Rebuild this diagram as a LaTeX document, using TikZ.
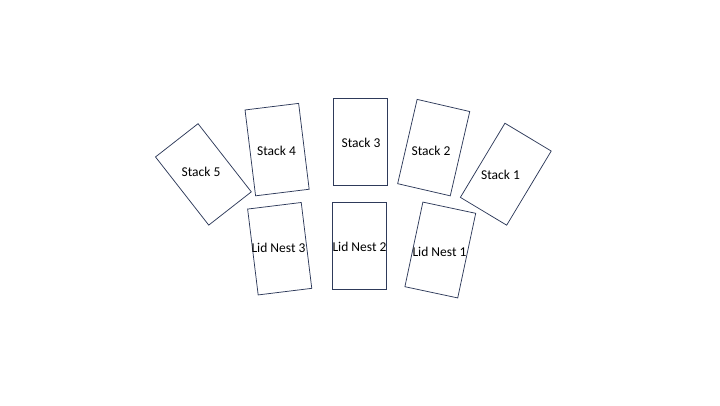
\documentclass[tikz,border=0pt]{standalone}
\usepackage{fontspec}
\setmainfont{Carlito}
\definecolor{edge}{HTML}{2E3A5A}
\begin{document}
\begin{tikzpicture}[x=1pt,y=-1pt,
  tray/.style={draw=edge,line width=0.75pt,minimum width=54pt,minimum height=86.5pt,inner sep=0pt,rectangle},
  lbl/.style={font=\fontsize{13.5}{15}\selectfont,text=black,inner sep=0pt}]
\useasboundingbox (0,0) rectangle (720,405);
\node[tray,rotate=38] (s5) at (203.4,174.4) {};
\node[tray,rotate=7] (s4) at (277.1,149.6) {};
\node[tray] (s3) at (360.8,141.7) {};
\node[tray,rotate=-13] (s2) at (433.7,147.6) {};
\node[tray,rotate=-31] (s1) at (505.8,174.2) {};
\node[tray,rotate=7] (n3) at (279.7,248.7) {};
\node[tray] (n2) at (359.5,245.7) {};
\node[tray,rotate=-12] (n1) at (440.3,250) {};
\node[lbl] (t5) at (201,171.5) {Stack 5};
\node[lbl] (t4) at (276.5,150.5) {Stack 4};
\node[lbl] (t3) at (361,142.5) {Stack 3};
\node[lbl] (t2) at (431,151) {Stack 2};
\node[lbl] (t1) at (500.5,175) {Stack 1};
\node[lbl] (l3) at (278.5,247.5) {Lid Nest 3};
\node[lbl] (l2) at (359.5,246.5) {Lid Nest 2};
\node[lbl] (l1) at (439.5,251.5) {Lid Nest 1};
\end{tikzpicture}
\end{document}
